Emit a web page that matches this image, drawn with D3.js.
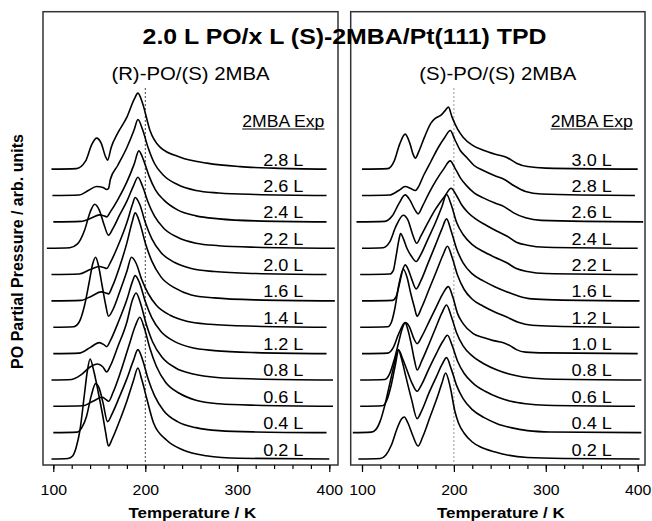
<!DOCTYPE html>
<html>
<head>
<meta charset="utf-8">
<script src="https://cdn.jsdelivr.net/npm/d3@7"></script>
<style>
  body { margin: 0; background: #fff; }
  svg { display: block; }
  text { font-family: "Liberation Sans", Arial, Helvetica, sans-serif; fill: #000; }
</style>
</head>
<body>
<div id="chart"></div>
<script>
// exposure labels, bottom curve first
const leftLabels = ["0.2 L", "0.4 L", "0.6 L", "0.8 L", "1.2 L", "1.4 L", "1.6 L", "2.0 L", "2.2 L", "2.4 L", "2.6 L", "2.8 L"]
const rightLabels = ["0.2 L", "0.4 L", "0.6 L", "0.8 L", "1.0 L", "1.2 L", "1.6 L", "2.2 L", "2.4 L", "2.6 L", "2.8 L", "3.0 L"]
const xTicks = [100, 200, 300, 400]
const xMinorTicks = [100, 120, 140, 160, 180, 200, 220, 240, 260, 280, 300, 320, 340, 360, 380, 400]

// [temperature K, signal above own baseline]
const leftCurves = [
  [[98,0],[116,0.5],[121,3],[125,12],[129,29],[134,66],[137,88],[140,100],[144,88],[149,66],[154,42],[157,26],[160,13],[164,20],[172,38],[180,58],[187,78],[192,91],[196,80],[202,59],[209,36],[223,19],[241,9],[266,3.3],[302,0.7],[400,0]],
  [[100,0],[126,0.5],[131,5],[136,16],[141,36],[146,49],[150,44],[154,30],[159,11],[164,19],[172,36],[180,54],[187,72],[192,83],[197,73],[203,54],[210,37],[220,22],[235,11],[255,5],[280,2],[320,0.7],[397,0]],
  [[100,0],[132,0.5],[143,5],[153,9],[157,7],[160,5],[165,14],[173,34],[182,60],[189,80],[194,89],[199,78],[205,58],[212,40],[222,24],[237,13],[255,6],[280,2.5],[320,1],[404,0]],
  [[98,0],[120,0.5],[130,5],[140,13],[148,16],[154,13],[158,8],[162,14],[170,33],[180,58],[186,80],[190,87],[195,76],[201,56],[208,38],[218,23],[233,12],[252,6],[278,2.5],[320,1],[404,0]],
  [[100,0],[128,0.5],[140,6],[150,11],[155,9],[158,7],[162,13],[170,30],[180,54],[186,72],[189,78],[194,70],[200,52],[207,36],[217,22],[232,12],[250,6],[275,3],[320,1],[397,0]],
  [[100,0],[122,0.5],[128,5],[134,22],[139,45],[143,64],[146,70],[149,62],[153,42],[157,22],[160,11],[165,18],[172,35],[180,56],[185,70],[190,64],[196,48],[203,34],[212,22],[227,12],[245,6],[270,3],[320,1],[397,0]],
  [[98,0],[130,0.5],[142,5],[152,9],[157,8],[160,7],[164,14],[172,34],[180,58],[186,80],[189,88],[194,78],[200,58],[207,40],[217,24],[232,13],[250,6],[275,3],[320,1],[406,0]],
  [[98,0],[128,0.5],[140,5],[150,8],[155,7],[158,6],[162,12],[170,28],[180,52],[186,70],[189,77],[194,70],[200,52],[207,36],[217,22],[232,12],[250,6],[275,3],[320,1],[397,0]],
  [[93,0],[118,0.5],[126,4],[134,18],[140,36],[145,44],[150,38],[155,24],[160,13],[165,20],[172,33],[180,47],[187,62],[192,71],[197,62],[203,46],[210,32],[220,20],[235,11],[255,5],[280,2.5],[320,1],[406,0]],
  [[100,0],[130,0.5],[142,4],[150,7],[155,6],[158,5],[162,10],[170,22],[180,40],[188,58],[193,71],[198,62],[204,46],[211,32],[220,22],[235,12],[255,6],[280,3],[320,1],[397,0]],
  [[99,0],[128,0.5],[138,5],[147,9],[154,8],[158,6],[160,7],[162,16],[170,30],[180,48],[188,66],[192,76],[197,66],[203,48],[210,32],[220,20],[235,11],[255,5],[280,2.5],[320,1],[397,0]],
  [[98,0],[125,0.5],[135,8],[142,25],[147,31],[152,26],[157,12],[159,9],[163,22],[170,36],[180,52],[188,70],[192,76],[197,66],[205,39],[216,22],[238,12],[267,6],[303,2.5],[340,1],[397,0]]
]

const rightCurves = [
  [[96,0],[120,0.5],[126,4],[132,14],[138,30],[143,40],[146,42],[150,36],[155,24],[161,13],[166,22],[174,42],[182,62],[187,76],[191,86],[196,72],[201,48],[205,36],[211,26],[220,17],[229,12],[245,7],[258,4],[280,1.5],[320,0.5],[402,0]],
  [[90,0],[110,0.5],[115,3],[120,12],[125,28],[130,48],[135,68],[139.5,83],[143,74],[148,55],[154,33],[160,14],[165,22],[173,40],[181,56],[187,68],[192,75],[197,64],[203,47],[210,34],[220,23],[233,15],[247,9],[262,5],[280,2],[305,0.7],[404,0]],
  [[98,0],[122,0.5],[127,6],[132,22],[136,40],[140,56],[144,48],[149,36],[154,24],[160,15],[165,22],[173,38],[181,53],[188,65],[193,71],[198,61],[204,45],[211,33],[221,23],[234,15],[248,9],[262,5],[278,2.5],[300,1],[397,0]],
  [[98,0],[125,0.5],[130,6],[135,20],[140,38],[144,52],[147,57],[150,50],[154,34],[157,20],[160,10],[165,19],[173,36],[181,54],[187,67],[192,75],[197,64],[203,47],[210,34],[220,24],[233,16],[247,10],[260,6],[275,3],[300,1],[404,0]],
  [[100,0],[128,0.5],[134,6],[140,20],[147,31],[152,26],[156,16],[160,10],[165,17],[173,32],[181,47],[188,60],[194,67],[199,56],[204,40],[210,30],[221,20],[232,16],[243,13],[253,11],[261,8],[268,4],[278,1.5],[300,0.7],[400,0]],
  [[98,0],[128,0.5],[132,5],[136,20],[140,42],[145,58],[149,50],[153,34],[157,20],[160,11],[165,20],[173,38],[181,56],[188,72],[193,81],[198,70],[204,52],[211,38],[220,28],[232,21],[245,15],[258,10],[270,5],[285,2],[310,1],[402,0]],
  [[100,0],[133,0.5],[137,4],[141,18],[144,30],[147,36],[150,32],[154,22],[159,12],[164,20],[172,38],[180,56],[187,72],[192,82],[197,70],[203,52],[210,38],[220,27],[232,20],[245,14],[258,9],[270,5],[285,2],[310,1],[402,0]],
  [[98,0],[130,0.5],[134,4],[137,18],[140,34],[142,41],[145,36],[149,26],[154,18],[159,13],[164,20],[172,36],[180,52],[187,68],[192,80],[197,70],[203,52],[210,40],[220,30],[232,23],[245,17],[257,12],[268,6],[280,3],[300,1],[400,0]],
  [[100,0],[123,0.5],[130,6],[137,22],[145,33],[150,28],[155,14],[159.5,5],[164,12],[172,26],[180,39],[190,52],[197,60],[202,54],[208,44],[215,36],[224,29],[235,23],[247,17],[258,12],[268,6],[280,3],[300,1],[400,0]],
  [[94,0],[125,0.5],[133,6],[140,18],[147,27],[152,22],[157,13],[161,8],[166,16],[173,29],[181,42],[189,53],[196,61],[201,54],[207,44],[214,36],[222,29],[232,24],[244,19],[255,15],[265,9],[278,4],[295,1.5],[406,0]],
  [[100,0],[130,0.5],[140,5],[147,9],[153,7],[158,5],[161,8],[167,20],[175,34],[183,48],[190,58],[196,65],[201,56],[207,45],[214,38],[222,30],[232,25],[244,20],[255,16],[265,10],[278,4],[295,1.5],[397,0]],
  [[100,0],[128,0.5],[135,8],[141,25],[147,35],[152,26],[156,14],[158,11],[162,18],[168,32],[175,46],[180,51],[186,54],[190,58],[194,62],[198,52],[204,40],[210,32],[220,24],[232,19],[245,15],[257,12],[268,6],[280,2.6],[300,1],[400,0]]
]

const W = 652, H = 521
const stretch = 1.13   // the figure's lettering is a little wide
const frameTop = 11.7, frameBottom = 465
const step = 26.35     // vertical offset between stacked traces

const svg = d3.select("#chart").append("svg")
  .attr("width", W)
  .attr("height", H)

const y = d3.scaleLinear().domain([0, 100]).range([459, 359])

const panels = [
  { left: 43, right: 338, range: [53.3, 329.3], title: "(R)-PO/(S) 2MBA", labels: leftLabels, curves: leftCurves, dash: "#444" },
  { left: 350.7, right: 645, range: [362, 637.7], title: "(S)-PO/(S) 2MBA", labels: rightLabels, curves: rightCurves, dash: "#999" }
]

function widen(sel, k) {
  sel.each(function () {
    const w = this.getComputedTextLength()
    this.setAttribute("textLength", w * k)
    this.setAttribute("lengthAdjust", "spacingAndGlyphs")
  })
}

panels.forEach(p => {
  const x = d3.scaleLinear().domain([100, 400]).range(p.range)
  const g = svg.append("g")

  g.append("rect")
    .attr("x", p.left).attr("y", frameTop)
    .attr("width", p.right - p.left).attr("height", frameBottom - frameTop)
    .attr("fill", "none").attr("stroke", "#333").attr("stroke-width", 1.5)

  g.append("line")
    .attr("x1", x(200)).attr("x2", x(200))
    .attr("y1", 88).attr("y2", frameBottom)
    .attr("stroke", p.dash).attr("stroke-width", 1)
    .attr("stroke-dasharray", "2,2")

  const line = d3.line()
    .x(d => x(d[0]))
    .curve(d3.curveMonotoneX)

  g.selectAll("path.trace")
    .data(p.curves)
    .join("path")
      .attr("class", "trace")
      .attr("d", (c, i) => line.y(d => y(i * step + d[1]))(c))
      .attr("fill", "none")
      .attr("stroke", "#000")
      .attr("stroke-width", 1.6)
      .attr("stroke-linejoin", "round")

  g.selectAll("text.lab")
    .data(p.labels)
    .join("text")
      .attr("class", "lab")
      .attr("x", x(350))
      .attr("y", (d, i) => y(i * step) - 3.5)
      .attr("text-anchor", "middle")
      .style("font-size", "16px")
      .text(d => d)
      .call(widen, stretch)

  const head = g.append("text")
    .attr("x", x(350)).attr("y", 126.5)
    .attr("text-anchor", "middle")
    .style("font-size", "16px")
    .text("2MBA Exp")
    .call(widen, 1.1)
  const hb = head.node().getBBox()
  g.append("line")
    .attr("x1", hb.x).attr("x2", hb.x + hb.width)
    .attr("y1", 129).attr("y2", 129)
    .attr("stroke", "#000").attr("stroke-width", 1.2)

  g.append("text")
    .attr("x", (p.left + p.right) / 2).attr("y", 80)
    .attr("text-anchor", "middle")
    .style("font-size", "18px")
    .text(p.title)
    .call(widen, stretch)

  // minor then major ticks under the frame
  g.append("g")
    .attr("transform", `translate(0,${frameBottom})`)
    .call(d3.axisBottom(x).tickValues(xMinorTicks).tickSize(4).tickFormat(""))
    .call(a => a.select(".domain").remove())
    .call(a => a.selectAll("line").attr("stroke", "#000").attr("stroke-width", 1.2))

  const ax = g.append("g")
    .attr("transform", `translate(0,${frameBottom})`)
    .call(d3.axisBottom(x).tickValues(xTicks).tickSize(7).tickPadding(13).tickFormat(d3.format("d")))
    .call(a => a.select(".domain").remove())
    .call(a => a.selectAll("line").attr("stroke", "#000").attr("stroke-width", 1.2))
  ax.selectAll("text")
    .attr("fill", "#000")
    .style("font-size", "14px")
    .style("font-family", '"Liberation Sans", Arial, Helvetica, sans-serif')
    .call(widen, stretch)

  g.append("text")
    .attr("x", (p.range[0] + p.range[1]) / 2 + 1).attr("y", 517.5)
    .attr("text-anchor", "middle")
    .style("font-size", "15px")
    .style("font-weight", "bold")
    .text("Temperature / K")
    .call(widen, stretch)
})

svg.append("text")
  .attr("x", 344.5).attr("y", 44.3)
  .attr("text-anchor", "middle")
  .style("font-size", "22px")
  .style("font-weight", "bold")
  .text("2.0 L PO/x L (S)-2MBA/Pt(111) TPD")
  .call(widen, stretch)

svg.append("text")
  .attr("transform", "translate(23,251.5) rotate(-90)")
  .attr("text-anchor", "middle")
  .style("font-size", "16px")
  .style("font-weight", "bold")
  .text("PO Partial Pressure / arb. units")
</script>
</body>
</html>
